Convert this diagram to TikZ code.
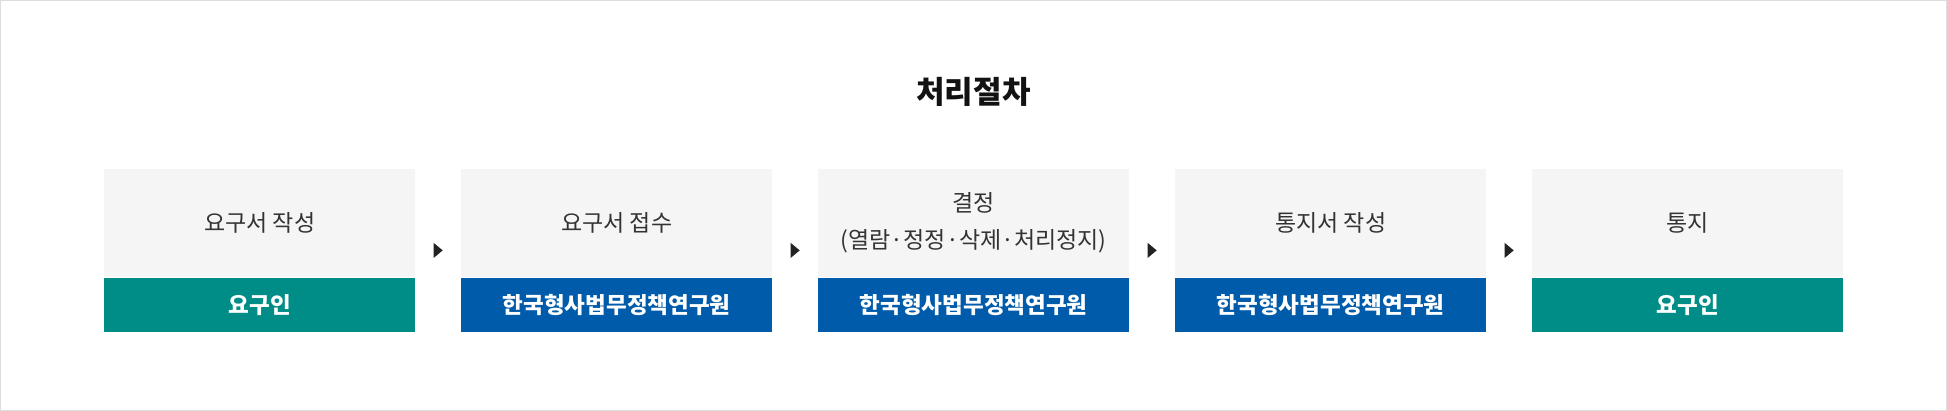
\documentclass[tikz,border=0pt]{standalone}
\usepackage{fontspec}
\setmainfont{Noto Sans CJK KR}
\usetikzlibrary{calc}
\definecolor{teal1}{HTML}{008D87}
\definecolor{blue1}{HTML}{005BAA}
\definecolor{graybox}{HTML}{F5F5F5}
\definecolor{frame}{HTML}{DDDDDD}
\definecolor{txt}{HTML}{333333}
\definecolor{tri}{HTML}{222222}
\tikzset{
  topbox/.style={fill=graybox, minimum width=311pt, minimum height=108pt, inner sep=0pt, anchor=north west, align=center, text=txt, font=\fontsize{23}{37}\selectfont},
  botbox/.style={minimum width=311pt, minimum height=54pt, inner sep=0pt, anchor=north, text=white, font=\fontsize{22.5}{26}\selectfont\bfseries},
  tealbox/.style={botbox, fill=teal1},
  bluebox/.style={botbox, fill=blue1},
}
\begin{document}
\begin{tikzpicture}[x=1pt,y=-1pt]
\useasboundingbox (0,0) rectangle (1947,411);
\draw[frame, line width=1.2pt] (0.6,0.6) rectangle (1946.4,410.4);
\node[font=\fontsize{31}{34}\selectfont\bfseries, text=black!93] (title) at (973.5,92) {처리절차};
\node[topbox] (t1) at (104,169) {요구서 작성};
\node[topbox] (t2) at (461,169) {요구서 접수};
\node[topbox] (t3) at (818,169) {결정\\(열람·정정·삭제·처리정지)};
\node[topbox] (t4) at (1175,169) {통지서 작성};
\node[topbox] (t5) at (1532,169) {통지};
\node[tealbox] (b1) at (t1.south) {요구인};
\node[bluebox] (b2) at (t2.south) {한국형사법무정책연구원};
\node[bluebox] (b3) at (t3.south) {한국형사법무정책연구원};
\node[bluebox] (b4) at (t4.south) {한국형사법무정책연구원};
\node[tealbox] (b5) at (t5.south) {요구인};
\path (t1.north east) -- (b1.south east) coordinate[pos=0.5] (r1);
\path (t2.north west) -- (b2.south west) coordinate[pos=0.5] (l2);
\path (t2.north east) -- (b2.south east) coordinate[pos=0.5] (r2);
\path (t3.north west) -- (b3.south west) coordinate[pos=0.5] (l3);
\path (t3.north east) -- (b3.south east) coordinate[pos=0.5] (r3);
\path (t4.north west) -- (b4.south west) coordinate[pos=0.5] (l4);
\path (t4.north east) -- (b4.south east) coordinate[pos=0.5] (r4);
\path (t5.north west) -- (b5.south west) coordinate[pos=0.5] (l5);
\foreach \a/\b in {r1/l2, r2/l3, r3/l4, r4/l5}{
  \path ($(\a)!0.5!(\b)$) coordinate (m);
  \fill[tri] ($(m)+(-4.5,-7.5)$) -- ($(m)+(4.5,0)$) -- ($(m)+(-4.5,7.5)$) -- cycle;
}
\end{tikzpicture}
\end{document}
